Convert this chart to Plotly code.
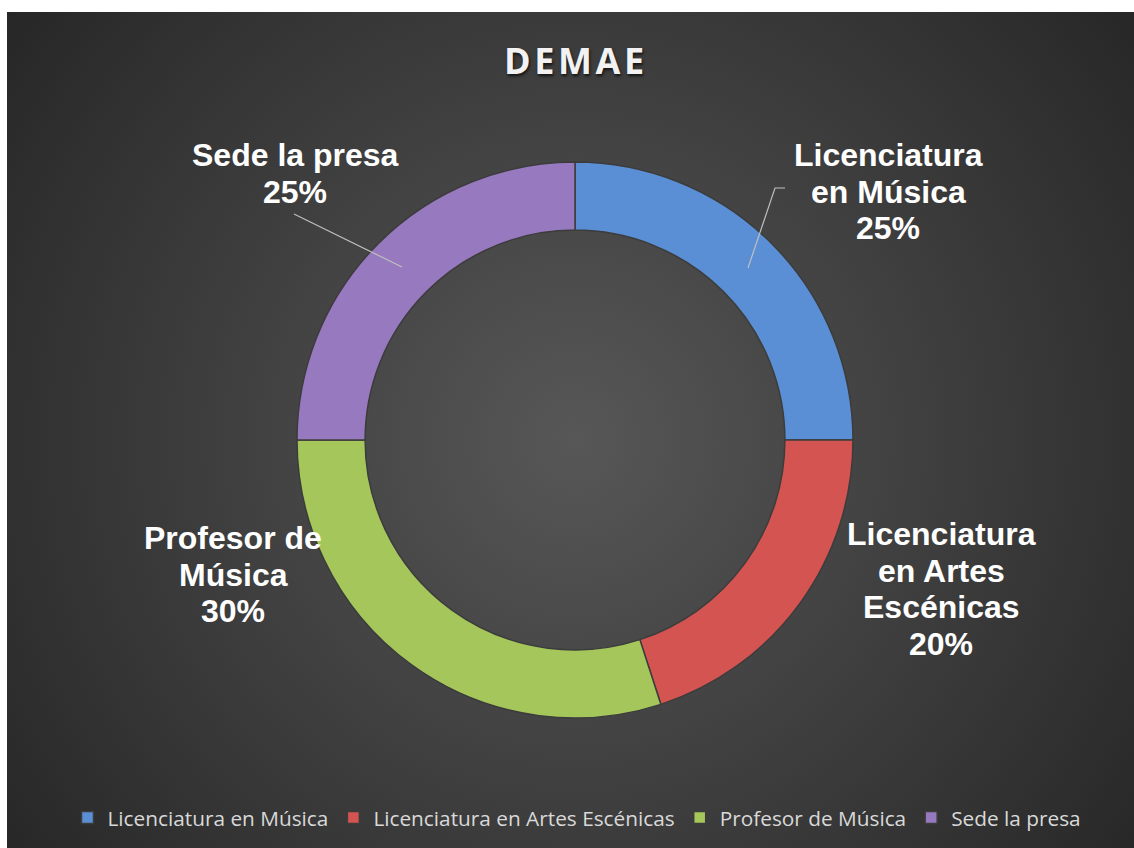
import base64
import plotly.graph_objects as go

# ---- data ----
categories = ["Licenciatura en Música", "Licenciatura en Artes Escénicas",
              "Profesor de Música", "Sede la presa"]
values = [25, 20, 30, 25]
label_lines = [["Licenciatura", "en Música"],
               ["Licenciatura", "en Artes", "Escénicas"],
               ["Profesor de", "Música"],
               ["Sede la presa"]]
colors = ["#5B8FD5", "#D35450", "#A4C65A", "#9779BF"]
title_text = "DEMAE"

W, H = 1134, 848

def px(x):
    return x / W

def py(y):
    return 1 - y / H

# background: radial gradient as inline SVG
bw, bh = W - 7, H - 12
svg = f'''<svg xmlns="http://www.w3.org/2000/svg" width="{bw}" height="{bh}">
<defs><radialGradient id="g" gradientUnits="userSpaceOnUse" cx="{575-7}" cy="{440-12}" r="720">
<stop offset="0" stop-color="#575757"/><stop offset="1" stop-color="#262626"/></radialGradient></defs>
<rect width="{bw}" height="{bh}" fill="url(#g)"/></svg>'''
src = "data:image/svg+xml;base64," + base64.b64encode(svg.encode()).decode()

cx, cy, R = 575, 440, 278

fig = go.Figure()
fig.add_trace(go.Pie(
    labels=categories, values=values, sort=False, direction="clockwise",
    rotation=0, hole=0.755, textinfo="none", hoverinfo="label+percent",
    marker=dict(colors=colors, line=dict(color="#3c3c3c", width=1.5)),
    domain=dict(x=[px(cx - R), px(cx + R)], y=[py(cy + R), py(cy - R)]),
    showlegend=True,
))

# data labels (one annotation per line to control line spacing)
total = sum(values)
label_pos = [(888, 155), (941, 534), (233, 538), (295, 155)]
spacing = 36.6
for lines, v, (lx, ly) in zip(label_lines, values, label_pos):
    all_lines = lines + [f"{round(100 * v / total)}%"]
    for i, t in enumerate(all_lines):
        fig.add_annotation(
            x=px(lx), y=py(ly + i * spacing), xref="paper", yref="paper",
            text=t, showarrow=False, xanchor="center", yanchor="middle",
            font=dict(family="Liberation Sans, Arial", size=32, color="#ffffff",
                      weight="bold"),
        )

# leader lines
leaders = [
    f"M {px(748)} {py(268)} L {px(775)} {py(188)} L {px(785)} {py(188)}",
    f"M {px(402)} {py(267)} L {px(294)} {py(214)}",
]
for p in leaders:
    fig.add_shape(type="path", path=p, xref="paper", yref="paper",
                  line=dict(color="#bfbfbf", width=1.2))

fig.add_layout_image(dict(source=src, xref="paper", yref="paper",
                          x=px(7), y=py(12), sizex=bw / W, sizey=bh / H,
                          xanchor="left", yanchor="top", sizing="stretch",
                          layer="below"))

fig.update_layout(
    width=W, height=H, margin=dict(l=0, r=0, t=0, b=0),
    paper_bgcolor="#ffffff", plot_bgcolor="rgba(0,0,0,0)",
    title=dict(text="\u200a".join(title_text), x=px(574), xanchor="center",
               y=py(61), yanchor="middle",
               font=dict(family="Open Sans", size=36, color="#f2f2f2",
                         weight="bold", shadow="1px 2px 3px rgba(0,0,0,0.7)")),
    legend=dict(orientation="h", x=px(577), xanchor="center", y=py(818),
                yanchor="middle", font=dict(family="Open Sans", size=20.8,
                                             color="#d9d9d9"),
                bgcolor="rgba(0,0,0,0)"),
)

fig.write_html("out.html", config={"displayModeBar": False},
               post_script="document.body.style.margin='0';")
